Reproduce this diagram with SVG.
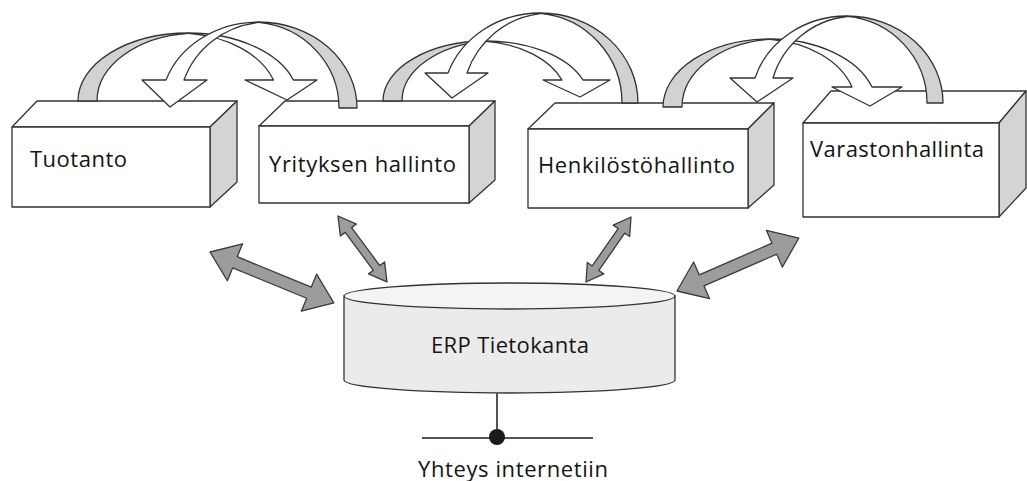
<svg xmlns="http://www.w3.org/2000/svg" width="1027" height="481" viewBox="0 0 1027 481">
<style>
.face{fill:#ffffff;stroke:#333;stroke-width:1.3;stroke-linejoin:round}
.side{fill:#d4d4d4;stroke:#333;stroke-width:1.3;stroke-linejoin:round}
.lbl{font-family:"Open Sans","Liberation Sans",sans-serif;font-size:22px;fill:#141414}
.shade{fill:#d2d2d2;stroke:#333;stroke-width:1.3;stroke-linejoin:round}
.band{fill:#ffffff;stroke:#333;stroke-width:1.3;stroke-linejoin:round}
.dbl{fill:#9c9c9c;stroke:#3a3a3a;stroke-width:1.3;stroke-linejoin:round}
</style>
<defs>
<path id="bigArrow" d="M0,0 L27,-20 L27,-6 L107,-6 L107,-20 L134,0 L107,20 L107,6 L27,6 L27,20 Z"/>
<path id="smallArrow" d="M0,0 L17,-10 L17,-4 L63,-4 L63,-10 L80,0 L63,10 L63,4 L17,4 L17,10 Z"/>
</defs>
<rect width="1027" height="481" fill="#ffffff"/>

<g id="tuotanto">
<polygon class="face" points="12,127 37,101 237,101 210,127"/>
<polygon class="side" points="210,127 237,101 237,182 210,207"/>
<rect class="face" x="12" y="127" width="198" height="80"/>
<text class="lbl" x="30" y="167" textLength="97">Tuotanto</text>
</g>

<g id="yrityksen-hallinto">
<polygon class="face" points="259,126 285,101 495,101 469,126"/>
<polygon class="side" points="469,126 495,101 495,180 469,203"/>
<rect class="face" x="259" y="126" width="210" height="77"/>
<text class="lbl" x="269" y="172" textLength="187">Yrityksen hallinto</text>
</g>

<g id="henkilostohallinto">
<polygon class="face" points="528,129 555,103 774,103 748,129"/>
<polygon class="side" points="748,129 774,103 774,185 748,208"/>
<rect class="face" x="528" y="129" width="220" height="79"/>
<text class="lbl" x="538" y="173" textLength="197">Henkilöstöhallinto</text>
</g>

<g id="varastonhallinta">
<polygon class="face" points="803,123 831,91 1026,91 999,123"/>
<polygon class="side" points="999,123 1026,91 1026,188 999,217"/>
<rect class="face" x="803" y="123" width="196" height="94"/>
<text class="lbl" x="810" y="157" textLength="174">Varastonhallinta</text>
</g>

<g id="erp-tietokanta">
<path d="M344,296 L344,380 A165.5,13 0 0 0 675,380 L675,296 Z" fill="#ebebeb" stroke="#333" stroke-width="1.3"/>
<ellipse cx="509.5" cy="296" rx="165.5" ry="13" fill="#f4f4f4" stroke="#333" stroke-width="1.3"/>
<text class="lbl" x="431" y="353" textLength="158">ERP Tietokanta</text>
</g>

<g id="connectors">
<line x1="497" y1="393" x2="497" y2="430" stroke="#555" stroke-width="2"/>

<!-- curved exchange arrows, pair 1 -->
<path class="shade" d="M78,101 A110.4,68 0 0 1 188.4,33 L188.4,33.3 A100.9,68 0 0 0 97,101 Z"/>
<path class="band" d="M188.4,33 A110.4,68 0 0 1 293.4,80 L317,80 L287,100 L245,80 L273.5,80 A100.2,68 0 0 0 188.4,33.35 Z"/>
<path class="shade" d="M357,108 A98.2,86 0 0 0 258.8,22 L258.8,22.44 A89.2,86 0 0 1 339,108 Z"/>
<path class="band" d="M258.8,22 A98.2,86 0 0 0 166,80 L142,80 L170,107 L207,80 L184,80 A88.95,86 0 0 1 258.8,22.46 Z"/>

<!-- pair 2 -->
<path class="shade" d="M383,101 A103.27,60 0 0 1 486.27,41 L486.27,41.31 A93.77,60 0 0 0 402,101 Z"/>
<path class="band" d="M486.27,41 A103.27,60 0 0 1 583,80 L610,80 L580,97 L543,80 L562,80 A92.43,60 0 0 0 486.27,41.41 Z"/>
<path class="shade" d="M638,103 A97.8,90 0 0 0 540.2,13 L540.2,13.36 A89.8,90 0 0 1 622,103 Z"/>
<path class="band" d="M540.2,13 A97.8,90 0 0 0 448,73 L425,73 L452,98 L488,73 L467,73 A88.02,90 0 0 1 540.2,13.56 Z"/>

<!-- pair 3 -->
<path class="shade" d="M663,107 A106.86,68 0 0 1 769.86,39 L769.86,39.32 A97.36,68 0 0 0 682,107 Z"/>
<path class="band" d="M769.86,39 A106.86,68 0 0 1 872,87 L902,87 L870,106 L832,87 L852,87 A96.63,68 0 0 0 769.86,39.38 Z"/>
<path class="shade" d="M943,103 A96,87 0 0 0 847,16 L847,16.36 A88,87 0 0 1 927,103 Z"/>
<path class="band" d="M847,16 A96,87 0 0 0 755,78 L730,78 L757,102 L793,78 L773,78 A86.8,87 0 0 1 847,16.49 Z"/>

<!-- double arrows to database -->
<use href="#bigArrow" class="dbl" transform="translate(210,252) rotate(22.36)"/>
<use href="#bigArrow" class="dbl" transform="translate(677,291) rotate(-23.48) scale(0.992,1)"/>
<use href="#smallArrow" class="dbl" transform="translate(338,216) rotate(53.41) scale(1.027,1)"/>
<use href="#smallArrow" class="dbl" transform="translate(586,282) rotate(-55.3) scale(0.988,1)"/>
</g>

<g id="internet">
<line x1="422" y1="438" x2="593" y2="438" stroke="#555" stroke-width="2"/>
<circle cx="497" cy="437" r="8" fill="#1a1a1a"/>
<text class="lbl" x="418" y="477" textLength="190">Yhteys internetiin</text>
</g>
</svg>
